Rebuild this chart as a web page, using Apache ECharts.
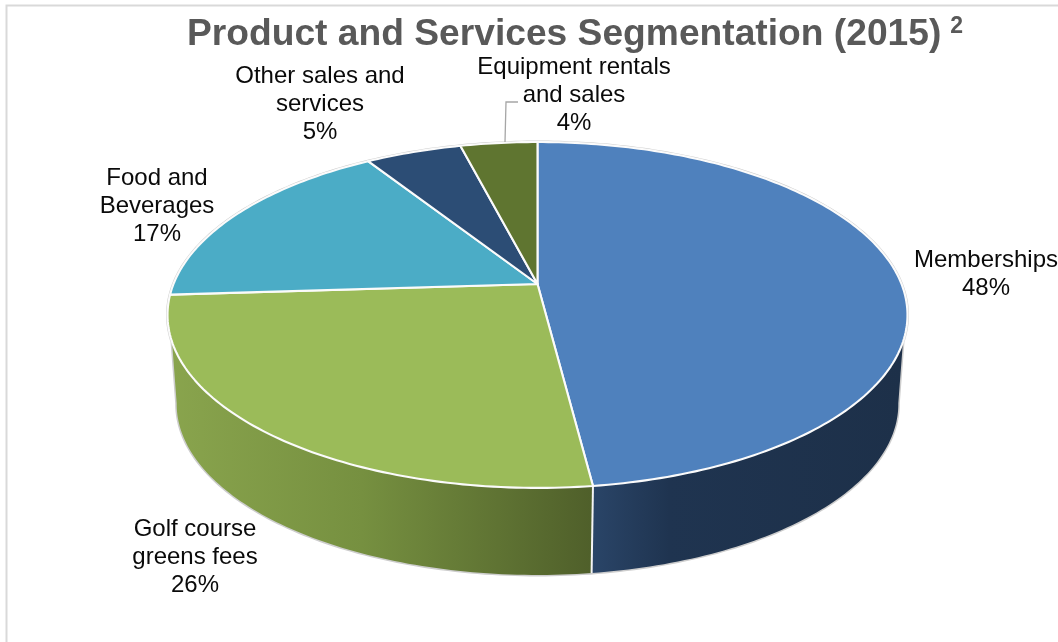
<!DOCTYPE html>
<html>
<head>
<meta charset="utf-8">
<title>Product and Services Segmentation (2015)</title>
<script src="https://cdn.jsdelivr.net/npm/echarts@6/dist/echarts.min.js"></script>
<style>
html, body { margin: 0; padding: 0; background: #fff; }
#chart { width: 1058px; height: 642px; }
</style>
</head>
<body>
<div id="chart"></div>
<script>
// Revenue split
const segments = ['Memberships', 'Golf course greens fees', 'Food and Beverages', 'Other sales and services', 'Equipment rentals and sales'];
const shares = [48, 26, 17, 5, 4];
const labelLines = [['Memberships'], ['Golf course', 'greens fees'], ['Food and', 'Beverages'], ['Other sales and', 'services'], ['Equipment rentals', 'and sales']];
const faceColors = ['#4f81bd', '#9bbb59', '#4bacc6', '#2c4d75', '#5f7530'];

// Label anchors: horizontal centre and vertical centre of the first line
const labelAnchors = [[986, 260], [195, 529], [157, 178], [320, 76], [574, 67]];

// Pie projection: a unit circle seen in perspective, extruded downwards
const topRim = { cx: 537.5, cy: 284, rx: 364, a: 167.4 };
const bottomRim = { cx: 537.5, cy: 373.5, rx: 355, a: 165.4 };
const foreshorten = 0.179;
// Visible part of the side wall, in degrees clockwise from twelve o'clock
const wallTop = [109, 251];
const wallBottom = [100, 260];

function project(rim, deg) {
  const t = deg * Math.PI / 180;
  const u = Math.sin(t), v = Math.cos(t);
  const d = 1 + foreshorten * v;
  return [rim.cx + rim.rx * u / d, rim.cy - rim.a * v / d];
}
function arc(rim, from, to) {
  const pts = [];
  const n = Math.max(2, Math.ceil(Math.abs(to - from)));
  for (let i = 0; i <= n; i++) pts.push(project(rim, from + (to - from) * i / n));
  return pts;
}

const total = shares.reduce((s, v) => s + v, 0);
function sliceAngles(i) {
  let before = 0;
  for (let k = 0; k < i; k++) before += shares[k];
  return [before / total * 360, (before + shares[i]) / total * 360];
}

const wallFills = [
  [[0, '#2a4568'], [0.25, '#1f3450'], [1, '#1d3049']],
  [[0, '#89a44d'], [0.45, '#769040'], [1, '#4f5f2a']]
];

function renderWall(params, api) {
  const i = params.dataIndex;
  const [a0, a1] = sliceAngles(i);
  const topFrom = Math.max(a0, wallTop[0]), topTo = Math.min(a1, wallTop[1]);
  const botFrom = Math.max(a0, wallBottom[0]), botTo = Math.min(a1, wallBottom[1]);
  if (topFrom >= topTo) return null;
  const points = arc(topRim, topFrom, topTo).concat(arc(bottomRim, botTo, botFrom));
  return {
    type: 'polygon',
    shape: { points },
    style: { fill: new echarts.graphic.LinearGradient(0, 0, 1, 0, wallFills[i].map(s => ({ offset: s[0], color: s[1] }))) }
  };
}

function renderDivider(params, api) {
  const [a0] = sliceAngles(params.dataIndex);
  if (a0 <= wallTop[0] || a0 >= wallTop[1]) return null;
  return {
    type: 'polyline',
    shape: { points: [project(topRim, a0), project(bottomRim, a0)] },
    style: { fill: null, stroke: '#f4f4f4', lineWidth: 2 }
  };
}

function renderOutline() {
  const points = arc(topRim, wallTop[1] - 360, wallTop[0])
    .concat(arc(bottomRim, wallBottom[0], wallBottom[1]))
    .concat([project(topRim, wallTop[1])]);
  return { type: 'polyline', shape: { points }, style: { fill: null, stroke: '#cdcdcd', lineWidth: 3 } };
}

function renderFace(params, api) {
  const i = params.dataIndex;
  const [a0, a1] = sliceAngles(i);
  const points = [[topRim.cx, topRim.cy]].concat(arc(topRim, a0, a1));
  return {
    type: 'polygon',
    shape: { points },
    style: { fill: faceColors[i], stroke: '#fbfbfb', lineWidth: 2.1, lineJoin: 'round' }
  };
}

function renderLabel(params, api) {
  const i = params.dataIndex;
  const lines = labelLines[i].concat([api.value(0) + '%']);
  return {
    type: 'group',
    children: lines.map((line, k) => ({
      type: 'text',
      style: {
        text: line, x: labelAnchors[i][0], y: labelAnchors[i][1] + k * 28,
        align: 'center', verticalAlign: 'middle',
        font: '24px "Liberation Sans", Arial, sans-serif', fill: '#0a0a0a'
      }
    }))
  };
}

const chart = echarts.init(document.getElementById('chart'), null, { renderer: 'canvas' });
const sliceData = shares.map((v, i) => ({ name: segments[i], value: v }));

chart.setOption({
  animation: false,
  backgroundColor: '#ffffff',
  title: {
    left: 187, top: 14, padding: 0,
    text: '{t|Product and Services Segmentation (2015)}{s|2}',
    textStyle: {
      rich: {
        t: { fontFamily: '"Liberation Sans", Arial, sans-serif', fontSize: 37.2, fontWeight: 'bold', color: '#595959', lineHeight: 42 },
        s: { fontFamily: '"Liberation Sans", Arial, sans-serif', fontSize: 23, fontWeight: 'bold', color: '#595959', verticalAlign: 'top', lineHeight: 26, padding: [1, 0, 0, 9] }
      }
    }
  },
  graphic: [
    { type: 'polyline', silent: true, shape: { points: [[6.5, 642], [6.5, 5.5], [1058, 5.5]] }, style: { fill: null, stroke: '#d9d9d9', lineWidth: 2 } },
    { type: 'polyline', silent: true, z: 5, shape: { points: [[505, 142], [506, 102], [518, 102]] }, style: { fill: null, stroke: '#a6a6a6', lineWidth: 1.3 } }
  ],
  series: [
    { type: 'custom', coordinateSystem: 'none', silent: true, z: 1, data: [1], renderItem: renderOutline },
    { type: 'custom', coordinateSystem: 'none', silent: true, z: 2, data: sliceData, renderItem: renderWall },
    { type: 'custom', coordinateSystem: 'none', silent: true, z: 3, data: sliceData, renderItem: renderDivider },
    { type: 'custom', coordinateSystem: 'none', silent: true, z: 4, data: sliceData, renderItem: renderFace },
    { type: 'custom', coordinateSystem: 'none', silent: true, z: 6, data: sliceData, renderItem: renderLabel }
  ]
});
</script>
</body>
</html>
